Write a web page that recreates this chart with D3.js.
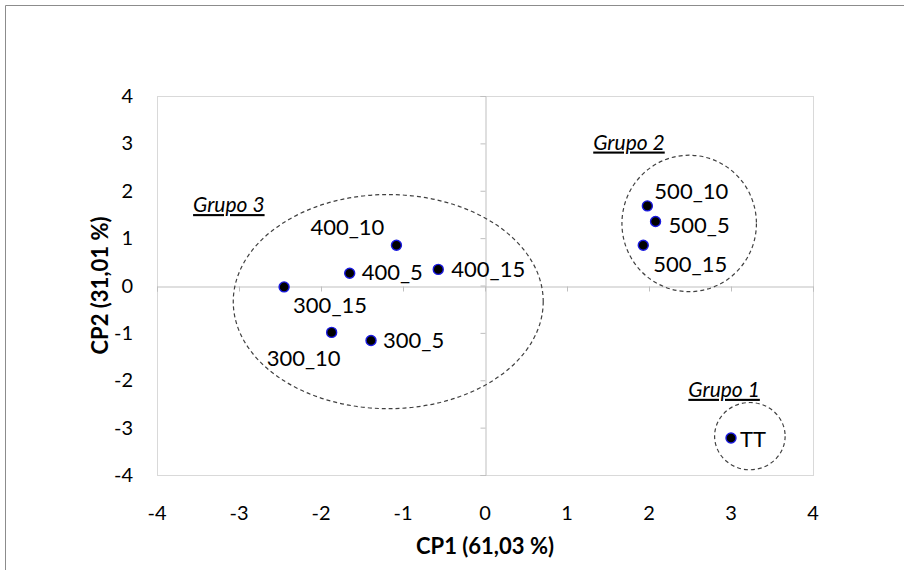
<!DOCTYPE html>
<html>
<head>
<meta charset="utf-8">
<script src="https://cdn.jsdelivr.net/npm/d3@7"></script>
<style>
  body { margin: 0; background: #fff; }
  text { font-family: Lato, "Open Sans", sans-serif; }
</style>
</head>
<body>
<div id="chart"></div>
<script>
// data
var names = ["400_10", "400_5", "400_15", "300_15", "300_10", "300_5", "500_10", "500_5", "500_15", "TT"];
var cp1 = [-1.08, -1.65, -0.57, -2.45, -1.87, -1.39, 1.98, 2.08, 1.93, 3.0];
var cp2 = [0.85, 0.26, 0.34, -0.03, -0.99, -1.16, 1.68, 1.35, 0.85, -3.22];
// label offsets (px) from each point
var labelDx = [-86, 12, 13, 9, -65, 12, 7, 13, 10, 9];
var labelDy = [-10, 7, 8, 26, 34, 8, -7, 11, 27, 9];

var groups = ["Grupo 1", "Grupo 2", "Grupo 3"];
var groupCx = [3.23, 2.49, -1.18];
var groupCy = [-3.18, 1.31, -0.34];
var groupRx = [0.43, 0.82, 1.89];
var groupRy = [0.71, 1.44, 2.26];
var groupLabelX = [2.48, 1.32, -3.56];
var groupLabelY = [-2.35, 2.87, 1.55];

var ticks = [-4, -3, -2, -1, 0, 1, 2, 3, 4];

var width = 904, height = 570;
var svg = d3.select("#chart").append("svg")
    .attr("width", width).attr("height", height);

// outer chart frame (only top/left visible)
svg.append("path")
    .attr("d", "M5.5,570 V5.5 H904")
    .attr("fill", "none").attr("stroke", "#8c8c8c").attr("stroke-width", 1);

var x = d3.scaleLinear().domain([-4, 4]).range([157, 813]);
var y = d3.scaleLinear().domain([-4, 4]).range([475, 96]);

// plot area border
svg.append("rect")
    .attr("x", x(-4) + 0.5).attr("y", y(4) + 0.5)
    .attr("width", x(4) - x(-4)).attr("height", y(-4) - y(4))
    .attr("fill", "none").attr("stroke", "#d9d9d9");

// axis lines through zero with outside ticks
var xAxis = svg.append("g")
    .attr("transform", "translate(0," + (Math.round(y(0)) + 0.5) + ")")
    .call(d3.axisBottom(x).tickValues(ticks).tickSize(5).tickFormat(""));
var yAxis = svg.append("g")
    .attr("transform", "translate(" + (Math.round(x(0)) + 0.5) + ",0)")
    .call(d3.axisLeft(y).tickValues(ticks).tickSize(5).tickFormat(""));
[xAxis, yAxis].forEach(function(a) {
  a.selectAll("path, line").attr("stroke", "#bfbfbf");
});

// tick labels at the plot edges
svg.append("g").selectAll("text").data(ticks).enter().append("text")
    .attr("x", function(d) { return x(d); })
    .attr("y", 520)
    .attr("text-anchor", "middle")
    .attr("font-size", 20)
    .attr("fill", "#000")
    .text(function(d) { return d; });
svg.append("g").selectAll("text").data(ticks).enter().append("text")
    .attr("x", 133)
    .attr("y", function(d) { return y(d) + 7; })
    .attr("text-anchor", "end")
    .attr("font-size", 20)
    .attr("fill", "#000")
    .text(function(d) { return d; });

// axis titles
svg.append("text")
    .attr("x", x(0)).attr("y", 554)
    .attr("text-anchor", "middle")
    .attr("font-size", 22).attr("font-weight", "bold")
    .text("CP1 (61,03 %)");
svg.append("text")
    .attr("transform", "translate(108," + y(0) + ") rotate(-90)")
    .attr("text-anchor", "middle")
    .attr("font-size", 22).attr("font-weight", "bold")
    .text("CP2 (31,01 %)");

// group ellipses
svg.append("g").selectAll("ellipse").data(groups).enter().append("ellipse")
    .attr("cx", function(d, i) { return x(groupCx[i]); })
    .attr("cy", function(d, i) { return y(groupCy[i]); })
    .attr("rx", function(d, i) { return x(groupCx[i] + groupRx[i]) - x(groupCx[i]); })
    .attr("ry", function(d, i) { return y(groupCy[i]) - y(groupCy[i] + groupRy[i]); })
    .attr("fill", "none")
    .attr("stroke", "#404040")
    .attr("stroke-width", 1.2)
    .attr("stroke-dasharray", "4,3");

svg.append("g").selectAll("text").data(groups).enter().append("text")
    .attr("x", function(d, i) { return x(groupLabelX[i]); })
    .attr("y", function(d, i) { return y(groupLabelY[i]); })
    .attr("font-size", 21)
    .attr("font-style", "italic")
    .attr("text-decoration", "underline")
    .attr("fill", "#000")
    .text(function(d) { return d; });

// points
var pts = svg.append("g").selectAll("g").data(names).enter().append("g")
    .attr("transform", function(d, i) { return "translate(" + x(cp1[i]) + "," + y(cp2[i]) + ")"; });
pts.append("circle")
    .attr("r", 5)
    .attr("fill", "#000")
    .attr("stroke", "#1a1ae0")
    .attr("stroke-width", 1.4);
pts.append("text")
    .attr("x", function(d, i) { return labelDx[i]; })
    .attr("y", function(d, i) { return labelDy[i]; })
    .attr("font-size", 22)
    .attr("fill", "#000")
    .text(function(d) { return d; });
</script>
</body>
</html>
